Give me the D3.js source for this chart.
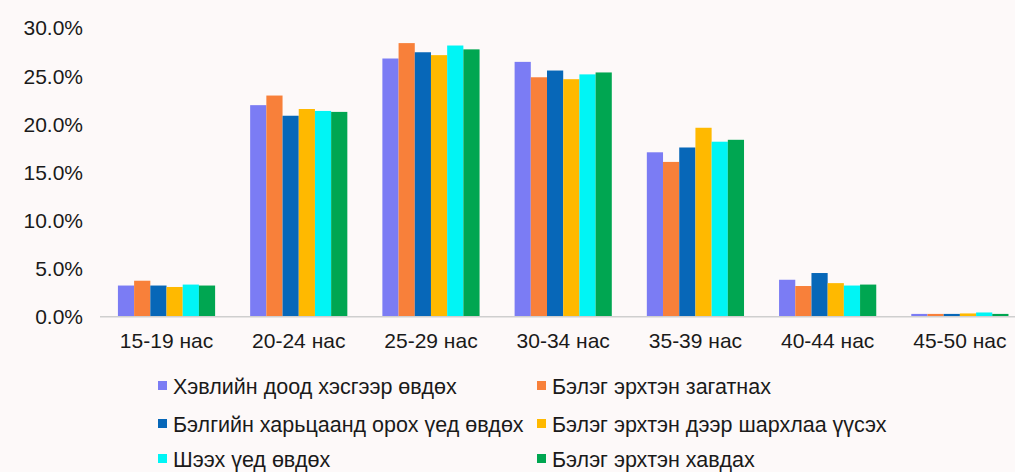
<!DOCTYPE html>
<html lang="mn">
<head>
    <meta charset="UTF-8">
    <title>Насны бүлгээр</title>
    <script src="https://d3js.org/d3.v7.min.js"></script>
    <style>
        body {
            margin: 0;
            background-color: #fdf9f9;
            font-family: "Liberation Sans", Arial, sans-serif;
            overflow: hidden;
        }
        svg { display: block; }
    </style>
</head>
<body>
    <svg id="chart"></svg>

    <script>
        // age groups
        const ageGroups = ["15-19 нас", "20-24 нас", "25-29 нас", "30-34 нас", "35-39 нас", "40-44 нас", "45-50 нас"];

        const seriesNames = [
            "Хэвлийн доод хэсгээр өвдөх",
            "Бэлэг эрхтэн загатнах",
            "Бэлгийн харьцаанд орох үед өвдөх",
            "Бэлэг эрхтэн дээр шархлаа үүсэх",
            "Шээх үед өвдөх",
            "Бэлэг эрхтэн хавдах"
        ];

        const seriesColors = ["#7b7cf4", "#f8803a", "#0767b8", "#ffb900", "#00f5f5", "#00a651"];

        // percent values, one array per series (order follows ageGroups)
        const abdominalPain = [3.25, 22.0, 26.85, 26.5, 17.1, 3.85, 0.3];
        const itching       = [3.75, 23.0, 28.45, 24.9, 16.1, 3.2, 0.3];
        const painDuringSex = [3.25, 20.9, 27.5, 25.6, 17.6, 4.55, 0.3];
        const ulcer         = [3.1, 21.6, 27.2, 24.7, 19.65, 3.5, 0.35];
        const painUrinating = [3.35, 21.4, 28.2, 25.2, 18.2, 3.25, 0.45];
        const swelling      = [3.25, 21.3, 27.8, 25.4, 18.4, 3.35, 0.3];

        const yTicks = [0, 5, 10, 15, 20, 25, 30];

        const seriesValues = [abdominalPain, itching, painDuringSex, ulcer, painUrinating, swelling];

        const width = 1015, height = 472;
        const svg = d3.select("#chart")
            .attr("width", width)
            .attr("height", height);

        // plot area runs past the right edge, like the cropped original
        const x0 = d3.scaleBand()
            .domain(ageGroups)
            .range([100.4, 1026])
            .paddingInner(0.265)
            .paddingOuter(0.1325);

        const x1 = d3.scaleBand()
            .domain(d3.range(seriesNames.length))
            .range([0, x0.bandwidth()]);

        const y = d3.scaleLinear()
            .domain([0, 30])
            .range([316.8, 28.2]);

        // y axis labels
        const yAxis = svg.append("g")
            .attr("transform", "translate(83,0)")
            .call(d3.axisLeft(y).tickValues(yTicks).tickSize(0).tickPadding(0)
                .tickFormat(d => d.toFixed(1) + "%"));
        yAxis.select(".domain").remove();
        yAxis.selectAll("text")
            .attr("font-family", "Liberation Sans, Arial, sans-serif")
            .attr("font-size", 21)
            .attr("fill", "#1a1a1a");

        // bars
        const groups = svg.append("g")
            .selectAll("g")
            .data(ageGroups)
            .join("g")
            .attr("transform", d => `translate(${x0(d)},0)`);

        groups.selectAll("rect")
            .data((d, i) => seriesValues.map((vals, s) => ({ s, v: vals[i] })))
            .join("rect")
            .attr("x", d => x1(d.s))
            .attr("y", d => y(d.v))
            .attr("width", x1.bandwidth())
            .attr("height", d => y(0) - y(d.v))
            .attr("fill", d => seriesColors[d.s]);

        // x axis
        const xAxis = svg.append("g")
            .attr("transform", `translate(0,${y(0)})`)
            .call(d3.axisBottom(x0).tickSize(0).tickPadding(16));
        xAxis.select(".domain")
            .attr("stroke", "#cfcfcf")
            .attr("stroke-width", 1.5)
            .attr("d", "M100,0H1030");
        xAxis.selectAll("text")
            .attr("font-family", "Liberation Sans, Arial, sans-serif")
            .attr("font-size", 21)
            .attr("fill", "#1a1a1a");

        // legend: two columns, three rows
        const legendCols = [158, 537];
        const legendRows = [386, 424, 459];

        const legend = svg.append("g")
            .selectAll("g")
            .data(seriesNames)
            .join("g")
            .attr("transform", (d, i) => `translate(${legendCols[i % 2]},${legendRows[Math.floor(i / 2)]})`);

        legend.append("rect")
            .attr("x", 0)
            .attr("y", -5)
            .attr("width", 9)
            .attr("height", 9)
            .attr("fill", (d, i) => seriesColors[i]);

        legend.append("text")
            .attr("x", 15)
            .attr("dy", "0.35em")
            .attr("font-family", "Liberation Sans, Arial, sans-serif")
            .attr("font-size", 21.5)
            .attr("fill", "#1a1a1a")
            .text(d => d);
    </script>
</body>
</html>
